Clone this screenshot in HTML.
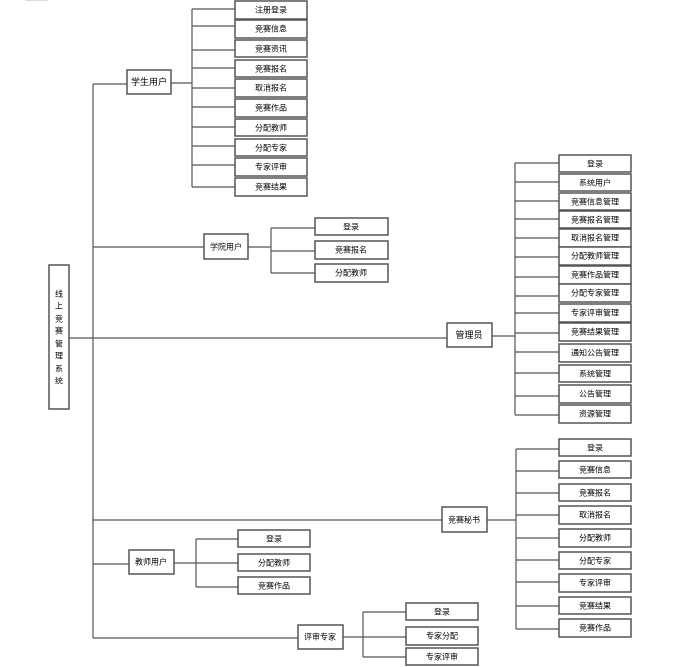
<!DOCTYPE html>
<html><head><meta charset="utf-8"><style>
html,body{margin:0;padding:0;background:#fff;}
svg{display:block;font-family:"Liberation Sans","Noto Sans CJK SC",sans-serif;}
rect{fill:#fff;stroke:#555;stroke-width:1.5}
line{stroke:#555;stroke-width:1.2}
text{font-size:8px;fill:#000;text-anchor:middle;dominant-baseline:central}
</style></head><body>
<svg width="682" height="667" viewBox="0 0 682 667">
<rect x="25" y="-1" width="23" height="2" style="fill:#ddd;stroke:none"/>
<!-- main spine -->
<line x1="93" y1="84" x2="93" y2="638"/>
<line x1="69" y1="338" x2="447" y2="338"/>
<rect x="49" y="265" width="20" height="144"/>
<text x="59" y="294">线</text><text x="59" y="306">上</text><text x="59" y="319">竞</text><text x="59" y="331">赛</text><text x="59" y="344">管</text><text x="59" y="356">理</text><text x="59" y="369">系</text><text x="59" y="381">统</text>

<!-- student -->
<line x1="93" y1="84" x2="127" y2="84"/>
<line x1="171" y1="83" x2="192" y2="83"/>
<line x1="192" y1="9" x2="192" y2="187"/>
<rect x="127" y="70" width="44" height="24"/><text x="149" y="82" style="font-size:9px">学生用户</text>
<line x1="192" y1="9" x2="235" y2="9"/><line x1="192" y1="26" x2="235" y2="26"/><line x1="192" y1="50" x2="235" y2="50"/><line x1="192" y1="68" x2="235" y2="68"/><line x1="192" y1="88" x2="235" y2="88"/><line x1="192" y1="107" x2="235" y2="107"/><line x1="192" y1="127" x2="235" y2="127"/><line x1="192" y1="146" x2="235" y2="146"/><line x1="192" y1="165" x2="235" y2="165"/><line x1="192" y1="187" x2="235" y2="187"/>
<rect x="235" y="1" width="72" height="18"/><text x="271" y="10">注册登录</text>
<rect x="235" y="20" width="72" height="18"/><text x="271" y="29">竞赛信息</text>
<rect x="235" y="40" width="72" height="17"/><text x="271" y="49">竞赛资讯</text>
<rect x="235" y="60" width="72" height="17"/><text x="271" y="69">竞赛报名</text>
<rect x="235" y="79" width="72" height="18"/><text x="271" y="88">取消报名</text>
<rect x="235" y="99" width="72" height="18"/><text x="271" y="108">竞赛作品</text>
<rect x="235" y="119" width="72" height="17"/><text x="271" y="128">分配教师</text>
<rect x="235" y="139" width="72" height="17"/><text x="271" y="148">分配专家</text>
<rect x="235" y="158" width="72" height="18"/><text x="271" y="167">专家评审</text>
<rect x="235" y="178" width="72" height="18"/><text x="271" y="187">竞赛结果</text>

<!-- college -->
<line x1="93" y1="247" x2="204" y2="247"/>
<line x1="248" y1="247" x2="271" y2="247"/>
<line x1="271" y1="228" x2="271" y2="273"/>
<line x1="271" y1="228" x2="315" y2="228"/><line x1="271" y1="251" x2="315" y2="251"/><line x1="271" y1="273" x2="315" y2="273"/>
<rect x="204" y="234" width="44" height="25"/><text x="226" y="247">学院用户</text>
<rect x="315" y="218" width="73" height="17"/><text x="351" y="227">登录</text>
<rect x="315" y="241" width="73" height="18"/><text x="351" y="250">竞赛报名</text>
<rect x="315" y="264" width="73" height="18"/><text x="351" y="273">分配教师</text>

<!-- admin -->
<line x1="492" y1="336" x2="515" y2="336"/>
<line x1="515" y1="163" x2="515" y2="415"/>
<line x1="515" y1="163" x2="559" y2="163"/><line x1="515" y1="182" x2="559" y2="182"/><line x1="515" y1="201" x2="559" y2="201"/><line x1="515" y1="219" x2="559" y2="219"/><line x1="515" y1="238" x2="559" y2="238"/><line x1="515" y1="257" x2="559" y2="257"/><line x1="515" y1="277" x2="559" y2="277"/><line x1="515" y1="296" x2="559" y2="296"/><line x1="515" y1="313" x2="559" y2="313"/><line x1="515" y1="333" x2="559" y2="333"/><line x1="515" y1="352" x2="559" y2="352"/><line x1="515" y1="373" x2="559" y2="373"/><line x1="515" y1="396" x2="559" y2="396"/><line x1="515" y1="415" x2="559" y2="415"/>
<rect x="447" y="323" width="45" height="24"/><text x="469" y="335" style="font-size:9px">管理员</text>
<rect x="559" y="155" width="72" height="17"/><text x="595" y="164">登录</text>
<rect x="559" y="174" width="72" height="17"/><text x="595" y="183">系统用户</text>
<rect x="559" y="193" width="72" height="17"/><text x="595" y="202">竞赛信息管理</text>
<rect x="559" y="211" width="72" height="17"/><text x="595" y="220">竞赛报名管理</text>
<rect x="559" y="229" width="72" height="18"/><text x="595" y="238">取消报名管理</text>
<rect x="559" y="247" width="72" height="18"/><text x="595" y="256">分配教师管理</text>
<rect x="559" y="266" width="72" height="18"/><text x="595" y="275">竞赛作品管理</text>
<rect x="559" y="284" width="72" height="18"/><text x="595" y="293">分配专家管理</text>
<rect x="559" y="304" width="72" height="18"/><text x="595" y="313">专家评审管理</text>
<rect x="559" y="323" width="72" height="18"/><text x="595" y="332">竞赛结果管理</text>
<rect x="559" y="344" width="72" height="18"/><text x="595" y="353">通知公告管理</text>
<rect x="559" y="365" width="72" height="17"/><text x="595" y="374">系统管理</text>
<rect x="559" y="385" width="72" height="18"/><text x="595" y="394">公告管理</text>
<rect x="559" y="405" width="72" height="18"/><text x="595" y="414">资源管理</text>

<!-- secretary -->
<line x1="93" y1="520" x2="442" y2="520"/>
<line x1="487" y1="520" x2="516" y2="520"/>
<line x1="516" y1="449" x2="516" y2="629"/>
<line x1="516" y1="449" x2="559" y2="449"/><line x1="516" y1="471" x2="559" y2="471"/><line x1="516" y1="493" x2="559" y2="493"/><line x1="516" y1="515" x2="559" y2="515"/><line x1="516" y1="538" x2="559" y2="538"/><line x1="516" y1="560" x2="559" y2="560"/><line x1="516" y1="582" x2="559" y2="582"/><line x1="516" y1="606" x2="559" y2="606"/><line x1="516" y1="629" x2="559" y2="629"/>
<rect x="442" y="507" width="45" height="25"/><text x="464" y="520">竞赛秘书</text>
<rect x="559" y="439" width="72" height="17"/><text x="595" y="448">登录</text>
<rect x="559" y="461" width="72" height="17"/><text x="595" y="470">竞赛信息</text>
<rect x="559" y="484" width="72" height="17"/><text x="595" y="493">竞赛报名</text>
<rect x="559" y="506" width="72" height="18"/><text x="595" y="515">取消报名</text>
<rect x="559" y="529" width="72" height="18"/><text x="595" y="538">分配教师</text>
<rect x="559" y="552" width="72" height="17"/><text x="595" y="561">分配专家</text>
<rect x="559" y="574" width="72" height="18"/><text x="595" y="583">专家评审</text>
<rect x="559" y="597" width="72" height="17"/><text x="595" y="606">竞赛结果</text>
<rect x="559" y="619" width="72" height="18"/><text x="595" y="628">竞赛作品</text>

<!-- teacher -->
<line x1="93" y1="564" x2="129" y2="564"/>
<line x1="174" y1="563" x2="196" y2="563"/>
<line x1="196" y1="539" x2="196" y2="587"/>
<line x1="196" y1="539" x2="238" y2="539"/><line x1="196" y1="563" x2="238" y2="563"/><line x1="196" y1="587" x2="238" y2="587"/>
<rect x="129" y="550" width="45" height="24"/><text x="151" y="562">教师用户</text>
<rect x="238" y="530" width="72" height="17"/><text x="274" y="539">登录</text>
<rect x="238" y="554" width="72" height="17"/><text x="274" y="563">分配教师</text>
<rect x="238" y="577" width="72" height="17"/><text x="274" y="586">竞赛作品</text>

<!-- expert -->
<line x1="93" y1="638" x2="298" y2="638"/>
<line x1="343" y1="637" x2="363" y2="637"/>
<line x1="363" y1="612" x2="363" y2="657"/>
<line x1="363" y1="612" x2="406" y2="612"/><line x1="363" y1="637" x2="406" y2="637"/><line x1="363" y1="657" x2="406" y2="657"/>
<rect x="298" y="625" width="45" height="24"/><text x="320" y="637">评审专家</text>
<rect x="406" y="603" width="72" height="17"/><text x="442" y="612">登录</text>
<rect x="406" y="627" width="72" height="18"/><text x="442" y="636">专家分配</text>
<rect x="406" y="648" width="72" height="17"/><text x="442" y="657">专家评审</text>
</svg>
</body></html>
